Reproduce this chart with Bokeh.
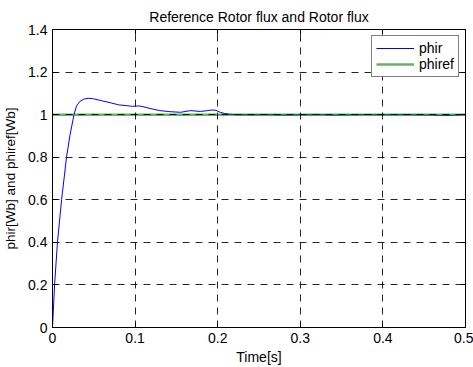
from bokeh.plotting import figure
from bokeh.models import FixedTicker, LinearAxis, Range1d
from bokeh.embed import file_html
from bokeh.resources import INLINE

# Data
t = [0, 0.0025, 0.006, 0.011, 0.017, 0.021, 0.026, 0.029, 0.033, 0.038, 0.044,
     0.05, 0.06, 0.07, 0.08, 0.09, 0.097, 0.105, 0.112, 0.118, 0.13, 0.142,
     0.155, 0.167, 0.179, 0.186, 0.193, 0.198, 0.203, 0.208, 0.213, 0.22,
     0.24, 0.26, 0.28, 0.30, 0.32, 0.34, 0.36, 0.38, 0.40, 0.42, 0.44, 0.46,
     0.47, 0.48, 0.49, 0.5]
phir = [0, 0.2, 0.4, 0.6, 0.8, 0.9, 1.0, 1.04, 1.062, 1.073, 1.077,
        1.074, 1.065, 1.056, 1.046, 1.042, 1.039, 1.041, 1.035, 1.029, 1.019, 1.014,
        1.011, 1.019, 1.015, 1.018, 1.022, 1.02, 1.011, 1.006, 1.003, 1.0,
        0.999, 1.0, 0.998, 0.999, 1.0, 0.998, 0.999, 1.0, 0.999, 1.0, 0.999, 0.998,
        0.996, 0.996, 0.998, 1.0]
t_ref = [0, 0.5]
phiref = [1.0, 1.0]

x_ticks = [0, 0.1, 0.2, 0.3, 0.4, 0.5]
x_labels = ["0", "0.1", "0.2", "0.3", "0.4", "0.5"]
y_ticks = [0, 0.2, 0.4, 0.6, 0.8, 1.0, 1.2, 1.4]
y_labels = ["0", "0.2", "0.4", "0.6", "0.8", "1", "1.2", "1.4"]

FONT = "Liberation Sans"

p = figure(width=473, height=367, output_backend="svg", toolbar_location=None,
           x_range=Range1d(0, 0.5), y_range=Range1d(0, 1.4),
           title="Reference Rotor flux and Rotor flux",
           min_border_left=52, min_border_right=8, min_border_top=29,
           min_border_bottom=37)
p.background_fill_color = "white"
p.border_fill_color = "white"
p.outline_line_color = "black"
p.outline_line_width = 1

p.title.align = "center"
p.title.text_font = FONT
p.title.text_font_size = "14px"
p.title.text_font_style = "normal"
p.title.text_color = "black"

p.line(t, phir, line_color="#0000ff", line_width=1, legend_label="phir")
p.line(t_ref, phiref, line_color="#008000", line_width=2.5, line_alpha=0.6,
       legend_label="phiref")

for ax, ticks, labels in ((p.xaxis[0], x_ticks, x_labels), (p.yaxis[0], y_ticks, y_labels)):
    ax.ticker = FixedTicker(ticks=ticks)
    ax.major_label_overrides = {k: v for k, v in zip(ticks, labels)}
    ax.major_tick_in = 5
    ax.major_tick_out = 0
    ax.minor_tick_line_color = None
    ax.major_label_text_font = FONT
    ax.major_label_text_font_size = "14px"
    ax.major_label_text_color = "black"
    ax.axis_label_text_font = FONT
    ax.axis_label_text_font_size = "14px"
    ax.axis_label_text_font_style = "normal"
    ax.axis_label_text_color = "black"
    ax.axis_line_color = "black"
    ax.major_tick_line_color = "black"
    ax.major_label_standoff = 5

p.xaxis[0].axis_label = "Time[s]"
p.xaxis[0].axis_label_standoff = 3
p.yaxis[0].axis_label = "phir[Wb] and phiref[Wb]"
p.yaxis[0].axis_label_standoff = 7
p.yaxis[0].axis_label_text_font_size = "13.5px"

# box ticks on top and right (no labels)
top = LinearAxis(ticker=FixedTicker(ticks=x_ticks), major_tick_in=5, major_tick_out=0,
                 minor_tick_line_color=None,
                 major_label_overrides={k: "" for k in x_ticks},
                 major_label_standoff=0, axis_line_color="black")
right = LinearAxis(ticker=FixedTicker(ticks=y_ticks), major_tick_in=5, major_tick_out=0,
                   minor_tick_line_color=None,
                   major_label_overrides={k: "" for k in y_ticks},
                   major_label_standoff=0, axis_line_color="black")
p.add_layout(top, "above")
p.add_layout(right, "right")

for g, ticks in ((p.xgrid[0], x_ticks), (p.ygrid[0], y_ticks)):
    g.ticker = FixedTicker(ticks=ticks)
    g.grid_line_color = "black"
    g.grid_line_alpha = 0.85
    g.grid_line_dash = "7 6"
    g.grid_line_width = 1
    g.level = "annotation"

lg = p.legend[0]
lg.location = "top_right"
lg.margin = 6
lg.padding = 4
lg.spacing = 0
lg.glyph_width = 38
lg.glyph_height = 16
lg.label_text_font = FONT
lg.label_text_font_size = "14px"
lg.label_text_color = "black"
lg.label_height = 16
lg.border_line_color = "black"
lg.border_line_width = 1
lg.background_fill_color = "white"
lg.background_fill_alpha = 1

open("out.html", "w").write(file_html(p, INLINE))
